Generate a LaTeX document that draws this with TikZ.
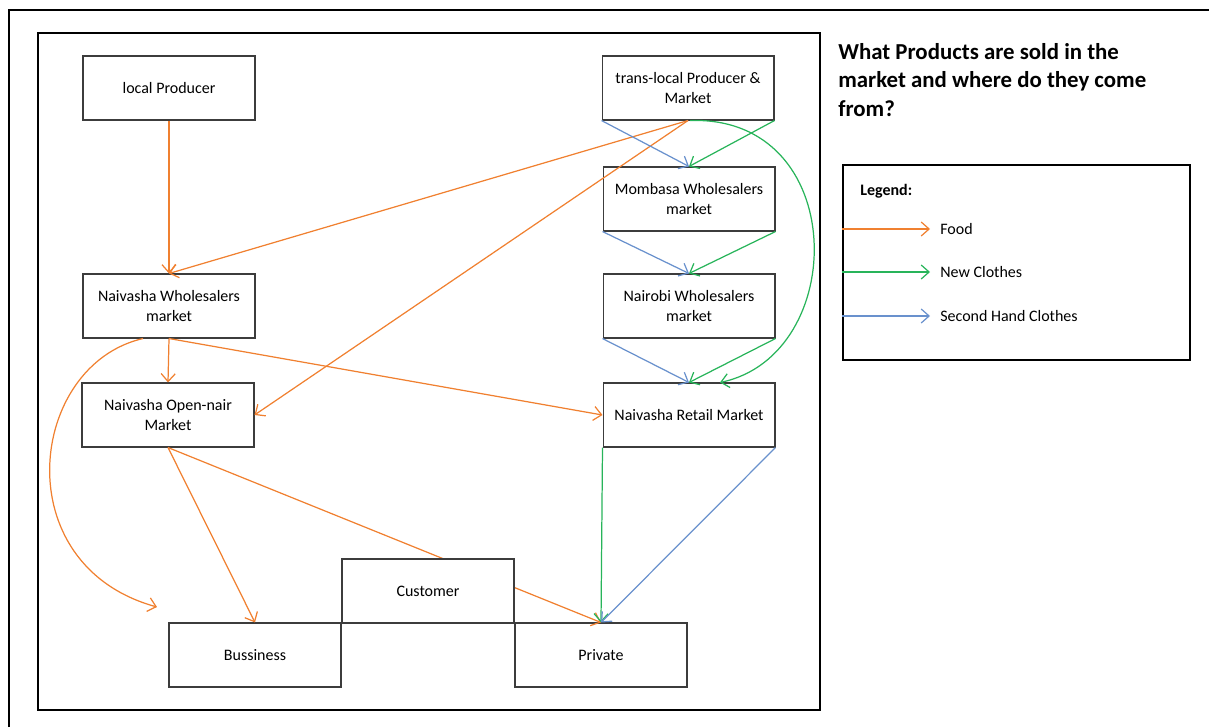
\documentclass[tikz,border=0pt]{standalone}
\usepackage{fontspec}
\setmainfont{Carlito}
\usetikzlibrary{arrows.meta, positioning, calc}
\definecolor{foodcol}{RGB}{240,128,48}
\definecolor{newcol}{RGB}{40,180,90}
\definecolor{usedcol}{RGB}{105,145,205}
\definecolor{boxcol}{RGB}{60,60,60}

\begin{document}
\begin{tikzpicture}[x=0.02cm, y=-0.02cm, font=\fontsize{9.1}{11.3}\selectfont,
  market/.style={draw=boxcol, line width=0.6pt, fill=white, minimum width=3.44cm,
                 minimum height=1.28cm, align=center, inner sep=1pt},
  flow/.style={line width=0.7pt, -{Straight Barb[length=4.5pt, width=8pt]}},
  food/.style={flow, draw=foodcol},
  newcl/.style={flow, draw=newcol},
  usedcl/.style={flow, draw=usedcol}]
  \useasboundingbox (0,0) rectangle (1209,727);

  % frames
  \draw[line width=1.2pt] (9,727) -- (9,10) -- (1209,10);
  \draw[line width=1.2pt] (38,33) rectangle (820,710);

  % markets
  \node[market] (lp) at (169,88)  {local Producer};
  \node[market] (tl) at (688,88)  {trans-local Producer \&\\Market};
  \node[market] (mw) at (689,199) {Mombasa Wholesalers\\market};
  \node[market] (nb) at (689,306) {Nairobi Wholesalers\\market};
  \node[market] (rm) at (689,415) {Naivasha Retail Market};
  \node[market] (nw) at (169,306) {Naivasha Wholesalers\\market};
  \node[market] (om) at (168,415) {Naivasha Open-nair\\Market};
  \node[market] (bu) at (255,655) {Bussiness};
  \node[market] (pr) at (601,655) {Private};
  \coordinate (bend) at (157,607);

  % food
  \draw[food] (lp.south) -- (nw.north);
  \draw[food] (tl.south) -- (nw.north);
  \draw[food] (tl.south) -- (om.east);
  \draw[food] (nw.south) -- (om.north);
  \draw[food] (nw.south) -- (rm.west);
  \draw[food] ($(nw.south)+(-26,0)$) .. controls (28,365) and (5,565) .. (bend);
  \draw[food] (om.south) -- (bu.north);
  \draw[food] (om.south) -- (pr.north);

  % new clothes
  \draw[newcl] (tl.south east) -- (mw.north);
  \draw[newcl] (mw.south east) -- (nb.north);
  \draw[newcl] (nb.south east) -- (rm.north);
  \draw[newcl] ($(tl.south)+(2,0)$) .. controls (850,115) and (850,355) .. ($(rm.north)+(31,0)$);
  \draw[newcl] (rm.south west) -- (pr.north);

  % second hand clothes
  \draw[usedcl] (tl.south west) -- (mw.north);
  \draw[usedcl] (mw.south west) -- (nb.north);
  \draw[usedcl] (nb.south west) -- (rm.north);
  \draw[usedcl] (rm.south east) -- (pr.north);

  \node[market] (cu) at (428,591) {Customer};

  % title and legend
  \node[anchor=north west, align=left, inner sep=0pt,
        font=\bfseries\fontsize{13}{16.2}\selectfont] (title) at (838,43)
    {What Products are sold in the\\market and where do they come\\from?};
  \node[draw, line width=1.2pt, minimum width=6.94cm, minimum height=3.9cm] (lg) at (1016.5,262.5) {};
  \node[anchor=west, inner sep=0pt, font=\bfseries\fontsize{9.1}{11}\selectfont] (lgt) at (860,191) {Legend:};
  \node[anchor=west, inner sep=0.2cm] (fd) at (930,229) {Food};
  \node[anchor=west, inner sep=0.2cm] (nc) at (930,272) {New Clothes};
  \node[anchor=west, inner sep=0.2cm] (sh) at (930,316) {Second Hand Clothes};
  \draw[food]   (lg.west |- fd.west) -- (fd.west);
  \draw[newcl]  (lg.west |- nc.west) -- (nc.west);
  \draw[usedcl] (lg.west |- sh.west) -- (sh.west);
\end{tikzpicture}
\end{document}
